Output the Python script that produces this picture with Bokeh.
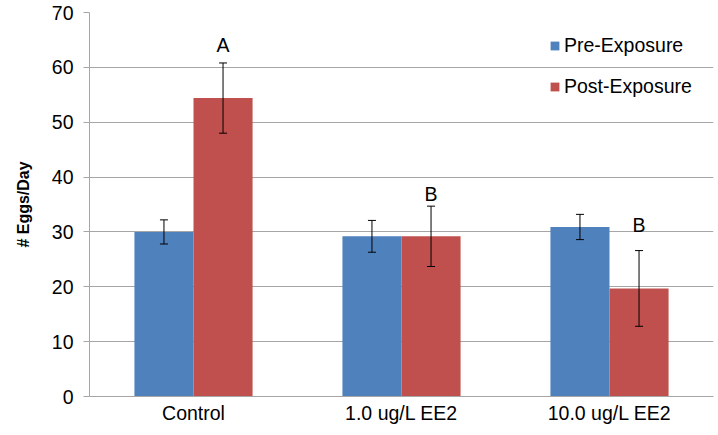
from bokeh.plotting import figure
from bokeh.models import (ColumnDataSource, Whisker, TeeHead, Legend, LegendItem,
                          Range1d, FixedTicker, FactorRange)
from bokeh.transform import dodge
from bokeh.core.properties import value
from bokeh.embed import file_html
from bokeh.resources import INLINE

categories = ["Control", "1.0 ug/L EE2", "10.0 ug/L EE2"]
pre_values = [30.0, 29.2, 30.9]
pre_errors = [2.2, 2.9, 2.3]
post_values = [54.4, 29.2, 19.7]
post_errors = [6.4, 5.5, 6.9]
letters = ["A", "B", "B"]
letter_y = [64.0, 37.0, 31.2]
y_ticks = [0, 10, 20, 30, 40, 50, 60, 70]
y_title = "# Eggs/Day"

FONT = "Liberation Sans"
BLUE = "#4F81BD"
RED = "#C0504D"
GRID = "#A6A6A6"
FS = "19.5px"

src = ColumnDataSource(dict(
    cat=categories,
    pre=pre_values,
    pre_lo=[v - e for v, e in zip(pre_values, pre_errors)],
    pre_hi=[v + e for v, e in zip(pre_values, pre_errors)],
    post=post_values,
    post_lo=[v - e for v, e in zip(post_values, post_errors)],
    post_hi=[v + e for v, e in zip(post_values, post_errors)],
    letter=letters,
    letter_y=letter_y,
))

p = figure(x_range=FactorRange(*categories), y_range=Range1d(0, 70),
           width=718, height=435, output_backend="svg", toolbar_location=None,
           min_border_left=89, min_border_right=5, min_border_top=12,
           min_border_bottom=39)
p.outline_line_color = None
p.background_fill_color = "white"
p.border_fill_color = "white"

bw = 0.284
off = 0.142
r_pre = p.vbar(x=dodge("cat", -off, range=p.x_range), top="pre", width=bw,
               source=src, fill_color=BLUE, line_color=None)
r_post = p.vbar(x=dodge("cat", off, range=p.x_range), top="post", width=bw,
                source=src, fill_color=RED, line_color=None)

for lo, hi, xoff in [("pre_lo", "pre_hi", -off), ("post_lo", "post_hi", off)]:
    w = Whisker(base=dodge("cat", xoff, range=p.x_range), lower=lo, upper=hi,
                source=src, line_color="black", line_width=1, level="overlay",
                upper_head=TeeHead(size=8, line_color="black", line_width=1),
                lower_head=TeeHead(size=8, line_color="black", line_width=1))
    p.add_layout(w)

p.text(x=dodge("cat", off, range=p.x_range), y="letter_y", text="letter", source=src,
       text_font=value(FONT), text_font_size=FS, text_align="center",
       text_baseline="middle", text_color="black")

# axes
p.yaxis.ticker = FixedTicker(ticks=y_ticks)
p.yaxis.axis_label = y_title
p.yaxis.axis_label_text_font = FONT
p.yaxis.axis_label_text_font_style = "bold"
p.yaxis.axis_label_text_font_size = "16px"
p.yaxis.axis_label_text_color = "black"
p.yaxis.axis_label_standoff = 17
p.yaxis.major_label_text_font = FONT
p.yaxis.major_label_text_font_size = FS
p.yaxis.major_label_text_color = "black"
p.yaxis.major_label_standoff = 10
p.yaxis.axis_line_color = GRID
p.yaxis.major_tick_line_color = GRID
p.yaxis.major_tick_out = 6
p.yaxis.major_tick_in = 0
p.yaxis.minor_tick_line_color = None

p.xaxis.major_label_text_font = FONT
p.xaxis.major_label_text_font_size = FS
p.xaxis.major_label_text_color = "black"
p.xaxis.major_label_standoff = 5
p.xaxis.axis_line_color = GRID
p.xaxis.major_tick_line_color = None
p.xaxis.major_tick_out = 0
p.xaxis.major_tick_in = 0

p.xgrid.grid_line_color = None
p.ygrid.grid_line_color = GRID
p.ygrid.ticker = FixedTicker(ticks=y_ticks)

legend = Legend(items=[LegendItem(label="Pre-Exposure", renderers=[r_pre]),
                       LegendItem(label="Post-Exposure", renderers=[r_post])],
                location=(460, 298), orientation="vertical",
                background_fill_alpha=0, border_line_color=None,
                label_text_font=FONT, label_text_font_size=FS,
                label_text_color="black",
                glyph_width=11, glyph_height=11, label_standoff=4,
                label_height=22, spacing=18, padding=0, margin=0)
p.add_layout(legend)

open("out.html", "w").write(file_html(p, INLINE))
